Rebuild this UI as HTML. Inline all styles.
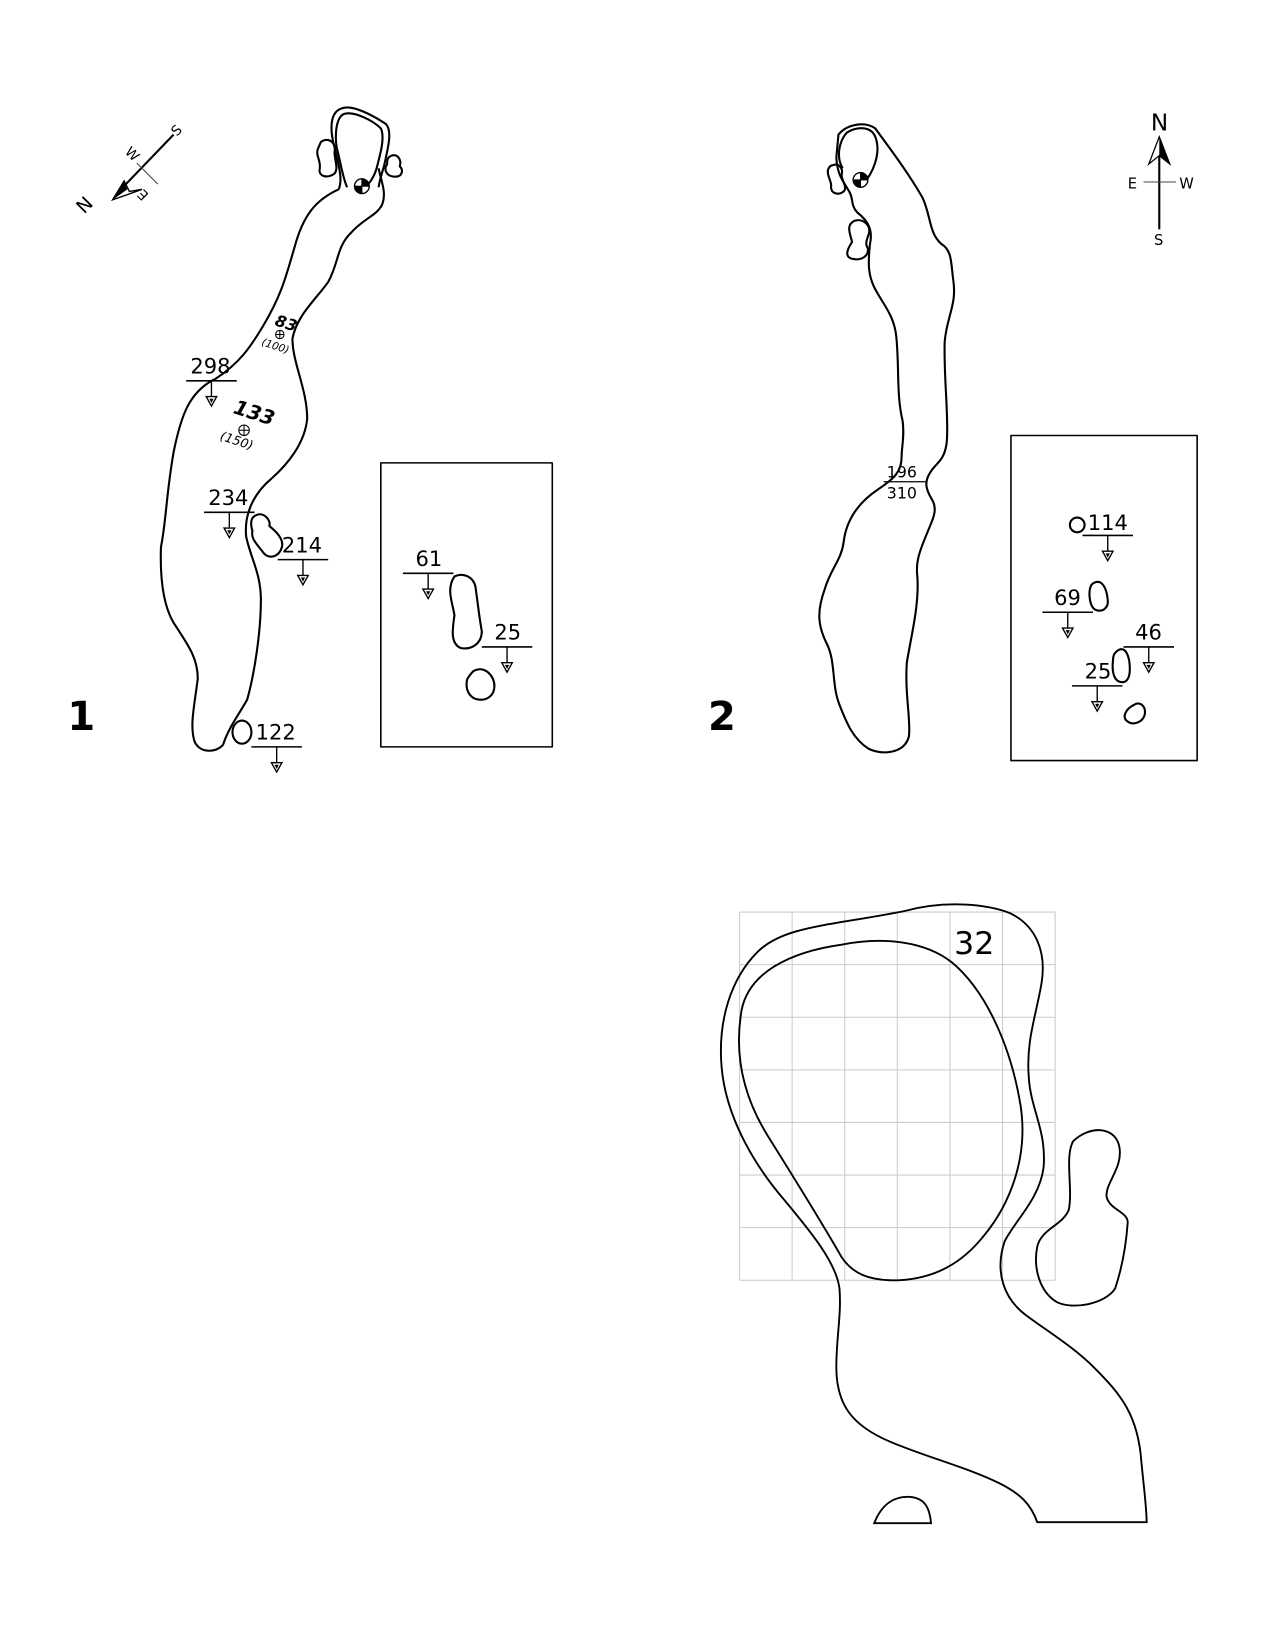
<!DOCTYPE html>
<html><head><meta charset="utf-8"><style>
html,body{margin:0;padding:0;background:#fff}
svg{display:block}
text{font-family:"DejaVu Sans","Liberation Sans",sans-serif;fill:#000}
</style></head><body>
<svg width="1275" height="1650" viewBox="0 0 1212 1568.5" preserveAspectRatio="none" xmlns="http://www.w3.org/2000/svg">
<defs>
<g id="m"><line x1="-24" y1="0" x2="24" y2="0" stroke="#000" stroke-width="1.5"/><line x1="0" y1="0" x2="0" y2="16" stroke="#000" stroke-width="1.3"/><polygon points="-5,15 5,15 0,24" fill="#fff" stroke="#000" stroke-width="1.3"/><polygon points="-2,17 2,17 0,21" fill="#000"/></g>
<g id="flag"><circle r="7" fill="#fff" stroke="#000" stroke-width="1.3"/><path d="M0,0 L0,-7 A7,7 0 0 1 7,0 Z M0,0 L0,7 A7,7 0 0 1 -7,0 Z" fill="#000"/><line x1="-7" y1="0" x2="7" y2="0" stroke="#000"/><line x1="0" y1="-7" x2="0" y2="7" stroke="#000"/></g>
</defs>
<g fill="none" stroke="#000" stroke-width="2" stroke-linejoin="round">
<path d="M322,180 C300,190 288,205 280,235 C272,262 268,280 250,310 C238,330 228,345 205,360 C180,372 172,395 165,430 C158,470 158,495 153,520 C152,550 155,575 165,592 C178,612 188,625 188,645 C185,670 180,690 185,705 C190,716 205,716 212,708 C218,690 228,678 235,665 C242,640 248,600 248,570 C248,545 238,530 234,510 C232,490 240,470 258,455 C275,440 290,420 292,398 C292,370 278,345 278,322 C282,300 300,285 312,268 C322,250 320,235 333,222 C345,208 358,205 363,195 C368,183 362,172 360,160"/>
<path d="M322,180 C326,170 322,158 318,140 C313,122 314,106 325,103 C335,99 355,110 367,118 C373,125 369,140 365,158 C362,168 360,175 360,178"/>
<path d="M330,178 C326,170 324,155 320,140 C318,126 320,110 328,108 C338,106 355,115 362,122 C366,130 362,145 358,160 C355,170 350,176 346,178"/>
<path d="M305,135 C312,130 320,135 318,145 C318,152 322,160 318,165 C312,170 302,168 304,160 C305,152 300,148 302,142 Z"/>
<path d="M372,148 C378,146 382,152 380,158 C384,162 382,168 376,168 C368,168 364,162 368,156 C368,152 368,150 372,148 Z"/>
<path d="M243,490 C250,486 258,494 256,500 C262,505 270,512 268,520 C265,530 255,532 250,525 C245,518 238,512 240,505 C238,498 238,492 243,490 Z"/>
<ellipse cx="230" cy="696" rx="9" ry="11"/>
<rect x="362" y="440" width="163" height="270" stroke-width="1.5"/>
<path d="M432,548 C440,544 450,548 452,558 C454,572 456,590 458,600 C458,612 448,618 438,616 C428,612 430,598 432,585 C430,572 424,560 432,548 Z"/>
<path d="M450,638 C460,632 470,642 470,652 C470,662 462,666 455,665 C446,664 442,655 444,646 C446,642 448,640 450,638 Z"/>
<path d="M797,128 C805,118 822,115 832,122 C845,140 862,162 877,188 C885,205 883,222 895,232 C905,238 904,250 906,265 C910,290 900,300 898,325 C897,360 902,395 900,420 C898,438 890,440 885,448 C878,458 880,465 886,475 C892,485 886,495 882,505 C876,520 870,532 872,548 C874,575 866,605 862,630 C860,660 866,685 864,700 C860,716 840,718 826,712 C810,702 804,685 798,670 C790,650 795,628 785,610 C778,595 776,582 784,560 C790,540 800,532 802,515 C805,490 820,475 835,465 C850,455 857,448 857,435 C857,425 860,415 858,400 C852,375 855,350 852,320 C850,300 840,290 832,275 C825,262 825,250 827,232 C830,218 825,210 815,202 C808,195 812,188 806,180 C800,170 796,165 795,150 Z"/>
<path d="M801,160 C795,150 797,135 805,126 C815,120 828,120 832,130 C838,145 830,165 820,175"/>
<path d="M792,157 C797,155 802,160 800,166 C800,172 806,178 802,182 C797,186 790,184 790,178 C791,172 786,168 787,162 C788,158 790,157 792,157 Z"/>
<path d="M812,210 C820,207 828,214 826,222 C824,228 822,232 825,236 C826,244 818,248 810,246 C802,244 806,236 810,230 C808,222 804,214 812,210 Z"/>
<rect x="961" y="414" width="177" height="309" stroke-width="1.5"/>
<circle cx="1024" cy="499" r="7"/>
<path d="M1040,554 C1048,550 1052,560 1053,570 C1054,578 1048,582 1042,580 C1036,578 1035,566 1036,560 C1037,556 1038,555 1040,554 Z"/>
<path d="M1063,618 C1070,614 1074,624 1074,636 C1074,646 1070,650 1064,648 C1058,646 1057,636 1058,628 C1058,622 1060,620 1063,618 Z"/>
<path d="M1078,670 C1084,666 1090,672 1088,680 C1086,686 1078,690 1072,686 C1066,682 1070,674 1078,670 Z"/>
</g>
<g stroke="#ccc" stroke-width="1">
<line x1="703" y1="867" x2="1003" y2="867"/><line x1="703" y1="917" x2="1003" y2="917"/><line x1="703" y1="967" x2="1003" y2="967"/><line x1="703" y1="1017" x2="1003" y2="1017"/><line x1="703" y1="1067" x2="1003" y2="1067"/><line x1="703" y1="1117" x2="1003" y2="1117"/><line x1="703" y1="1167" x2="1003" y2="1167"/><line x1="703" y1="1217" x2="1003" y2="1217"/>
<line x1="703" y1="867" x2="703" y2="1217"/><line x1="753" y1="867" x2="753" y2="1217"/><line x1="803" y1="867" x2="803" y2="1217"/><line x1="853" y1="867" x2="853" y2="1217"/><line x1="903" y1="867" x2="903" y2="1217"/><line x1="953" y1="867" x2="953" y2="1217"/><line x1="1003" y1="867" x2="1003" y2="1217"/>
</g>
<g fill="none" stroke="#000" stroke-width="1.8">
<path d="M860,866 C900,855 940,860 960,868 C985,880 995,905 990,935 C985,965 975,990 978,1025 C980,1055 995,1075 992,1110 C988,1140 965,1160 955,1180 C945,1210 955,1235 975,1250 C995,1265 1020,1280 1040,1300 C1065,1325 1082,1345 1085,1390 C1088,1420 1090,1435 1090,1447 L986,1447 C980,1430 970,1420 950,1410 C920,1395 880,1385 845,1370 C810,1355 795,1335 795,1300 C795,1270 800,1250 798,1225 C795,1200 770,1170 745,1140 C715,1105 690,1060 686,1015 C682,970 695,930 720,905 C745,880 790,880 860,866 Z"/>
<path d="M800,898 C840,890 880,895 905,915 C935,940 960,990 970,1050 C978,1100 960,1145 935,1175 C915,1200 890,1215 855,1217 C825,1218 810,1210 800,1195 C780,1160 755,1120 730,1080 C705,1040 698,1000 705,960 C712,925 750,905 800,898 Z"/>
<path d="M1020,1085 C1035,1070 1060,1070 1064,1090 C1068,1110 1050,1125 1052,1138 C1055,1150 1072,1152 1072,1162 C1070,1190 1065,1210 1060,1225 C1050,1240 1020,1245 1005,1238 C988,1228 982,1205 986,1185 C990,1168 1010,1165 1016,1150 C1020,1130 1012,1100 1020,1085 Z"/>
<path d="M831,1448 C838,1430 850,1422 865,1423 C880,1424 884,1435 885,1448 Z"/>
</g>
<use href="#m" x="201" y="362"/>
<use href="#m" x="218" y="487"/>
<use href="#m" x="288" y="532"/>
<use href="#m" x="263" y="710"/>
<use href="#m" x="407" y="545"/>
<use href="#m" x="482" y="615"/>
<use href="#m" x="1053" y="509"/>
<use href="#m" x="1015" y="582"/>
<use href="#m" x="1092" y="615"/>
<use href="#m" x="1043" y="652"/>
<use href="#flag" x="344" y="177"/>
<use href="#flag" x="818" y="171"/>
<g font-size="20">
<text x="181" y="355">298</text><text x="198" y="480">234</text><text x="268" y="525">214</text><text x="243" y="703">122</text><text x="395" y="538">61</text><text x="470" y="608">25</text>
<text x="1034" y="504">114</text><text x="1002" y="575">69</text><text x="1079" y="608">46</text><text x="1031" y="645">25</text>
</g>
<text x="843" y="454" font-size="15">196</text><line x1="840" y1="458" x2="880" y2="458" stroke="#000" stroke-width="1.2"/><text x="843" y="474" font-size="15">310</text>
<g transform="translate(270,312) rotate(18)"><text x="-10" y="0" font-size="15" font-weight="bold" font-style="italic">83</text><text x="-16" y="22" font-size="10" font-style="italic">(100)</text></g>
<circle cx="266" cy="318" r="4" fill="none" stroke="#000"/><line x1="262" y1="318" x2="270" y2="318" stroke="#000"/><line x1="266" y1="314" x2="266" y2="322" stroke="#000"/>
<g transform="translate(238,398) rotate(18)"><text x="-18" y="0" font-size="19" font-weight="bold" font-style="italic">133</text><text x="-22" y="28" font-size="12" font-style="italic">(150)</text></g>
<circle cx="232" cy="409" r="5" fill="none" stroke="#000"/><line x1="227" y1="409" x2="237" y2="409" stroke="#000"/><line x1="232" y1="404" x2="232" y2="414" stroke="#000"/>
<text x="64" y="694" font-size="38" font-weight="bold">1</text>
<text x="673" y="694" font-size="38" font-weight="bold">2</text>
<text x="907" y="907" font-size="30">32</text>
<line x1="165" y1="128" x2="112" y2="183" stroke="#000" stroke-width="2"/>
<polygon points="107,190 118,172 123,182 135,180" fill="#fff" stroke="#000" stroke-width="1.3"/>
<polygon points="107,190 118,172 121,180" fill="#000"/>
<line x1="130" y1="155" x2="150" y2="175" stroke="#444" stroke-width="1"/>
<text x="0" y="0" font-size="18" transform="translate(80,204) rotate(-45)">N</text>
<text x="0" y="0" font-size="13" transform="translate(168,130) rotate(-45)">S</text>
<text x="0" y="0" font-size="13" transform="translate(118,145) rotate(45)">W</text>
<text x="0" y="0" font-size="13" transform="translate(142,185) rotate(-135)">E</text>
<line x1="1102" y1="132" x2="1102" y2="218" stroke="#000" stroke-width="2"/>
<polygon points="1102,130 1092,156 1102,148 1112,156" fill="#fff" stroke="#000" stroke-width="1.2"/>
<polygon points="1102,130 1102,148 1112,156" fill="#000"/>
<line x1="1087" y1="173" x2="1118" y2="173" stroke="#444" stroke-width="1"/>
<text x="1094" y="124" font-size="22">N</text>
<text x="1072" y="179" font-size="14">E</text>
<text x="1121" y="179" font-size="14">W</text>
<text x="1097" y="233" font-size="14">S</text>
</svg>
</body></html>
